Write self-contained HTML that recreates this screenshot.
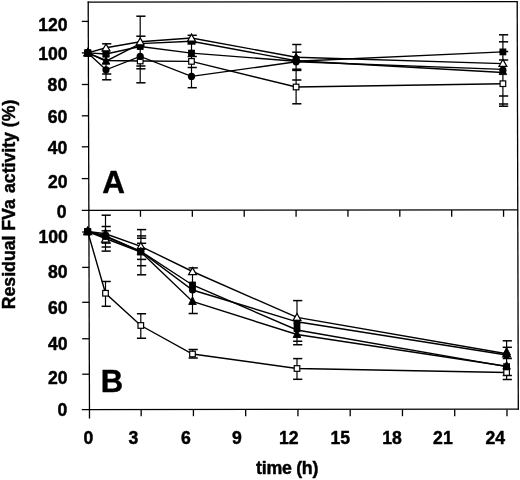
<!DOCTYPE html><html><head><meta charset="utf-8"><style>html,body{margin:0;padding:0;background:#fff;width:520px;height:480px;overflow:hidden}svg{display:block;will-change:transform}</style></head><body><svg width="520" height="480" viewBox="0 0 520 480"><rect width="520" height="480" fill="#fff"/><g stroke="#000" stroke-linecap="butt" fill="none"><line x1="88.2" y1="1.6" x2="89.5" y2="418.5" stroke-width="1.3"/><line x1="87.6" y1="2.2" x2="517.8" y2="1.6" stroke-width="1.3"/><line x1="517.2" y1="1.4" x2="518.3" y2="409.8" stroke-width="1.3"/><line x1="81.8" y1="210.3" x2="517.8" y2="209.9" stroke-width="1.3"/><line x1="81.8" y1="409.6" x2="518.8" y2="409.2" stroke-width="1.3"/><line x1="81.8" y1="21.4" x2="88.5" y2="21.4" stroke-width="1.3"/><line x1="81.8" y1="52.9" x2="88.5" y2="52.9" stroke-width="1.3"/><line x1="81.8" y1="84.5" x2="88.5" y2="84.5" stroke-width="1.3"/><line x1="81.8" y1="115.8" x2="88.5" y2="115.8" stroke-width="1.3"/><line x1="81.8" y1="146.8" x2="88.5" y2="146.8" stroke-width="1.3"/><line x1="81.8" y1="178.6" x2="88.5" y2="178.6" stroke-width="1.3"/><line x1="82.2" y1="232.0" x2="89.2" y2="232.0" stroke-width="1.3"/><line x1="82.2" y1="267.4" x2="89.2" y2="267.4" stroke-width="1.3"/><line x1="82.2" y1="302.3" x2="89.2" y2="302.3" stroke-width="1.3"/><line x1="82.2" y1="338.75" x2="89.2" y2="338.75" stroke-width="1.3"/><line x1="82.2" y1="374.2" x2="89.2" y2="374.2" stroke-width="1.3"/><line x1="140.47" y1="210" x2="140.47" y2="216.8" stroke-width="1.3"/><line x1="192.33999999999997" y1="210" x2="192.33999999999997" y2="216.8" stroke-width="1.3"/><line x1="244.20999999999998" y1="210" x2="244.20999999999998" y2="216.8" stroke-width="1.3"/><line x1="296.08" y1="210" x2="296.08" y2="216.8" stroke-width="1.3"/><line x1="347.94999999999993" y1="210" x2="347.94999999999993" y2="216.8" stroke-width="1.3"/><line x1="399.81999999999994" y1="210" x2="399.81999999999994" y2="216.8" stroke-width="1.3"/><line x1="451.68999999999994" y1="210" x2="451.68999999999994" y2="216.8" stroke-width="1.3"/><line x1="503.55999999999995" y1="210" x2="503.55999999999995" y2="216.8" stroke-width="1.3"/><line x1="141.16000000000003" y1="409.4" x2="141.16000000000003" y2="416.2" stroke-width="1.3"/><line x1="193.42000000000002" y1="409.4" x2="193.42000000000002" y2="416.2" stroke-width="1.3"/><line x1="245.68000000000004" y1="409.4" x2="245.68000000000004" y2="416.2" stroke-width="1.3"/><line x1="297.94000000000005" y1="409.4" x2="297.94000000000005" y2="416.2" stroke-width="1.3"/><line x1="350.20000000000005" y1="409.4" x2="350.20000000000005" y2="416.2" stroke-width="1.3"/><line x1="402.46000000000004" y1="409.4" x2="402.46000000000004" y2="416.2" stroke-width="1.3"/><line x1="454.72" y1="409.4" x2="454.72" y2="416.2" stroke-width="1.3"/><line x1="506.98" y1="409.4" x2="506.98" y2="416.2" stroke-width="1.3"/><line x1="106.0" y1="43.8" x2="106.0" y2="79.8" stroke-width="1.2"/><line x1="102.10000000000001" y1="43.8" x2="111.3" y2="43.8" stroke-width="1.5"/><line x1="102.10000000000001" y1="74.0" x2="111.3" y2="74.0" stroke-width="1.5"/><line x1="102.10000000000001" y1="79.8" x2="111.3" y2="79.8" stroke-width="1.5"/><line x1="140.2" y1="16.2" x2="140.2" y2="82.8" stroke-width="1.2"/><line x1="136.29999999999998" y1="16.2" x2="145.49999999999997" y2="16.2" stroke-width="1.5"/><line x1="136.29999999999998" y1="36.2" x2="145.49999999999997" y2="36.2" stroke-width="1.5"/><line x1="136.29999999999998" y1="66.0" x2="145.49999999999997" y2="66.0" stroke-width="1.5"/><line x1="136.29999999999998" y1="68.8" x2="145.49999999999997" y2="68.8" stroke-width="1.5"/><line x1="136.29999999999998" y1="82.8" x2="145.49999999999997" y2="82.8" stroke-width="1.5"/><line x1="191.5" y1="35.3" x2="191.5" y2="87.7" stroke-width="1.2"/><line x1="187.6" y1="35.3" x2="196.79999999999998" y2="35.3" stroke-width="1.5"/><line x1="187.6" y1="42.5" x2="196.79999999999998" y2="42.5" stroke-width="1.5"/><line x1="187.6" y1="56.5" x2="196.79999999999998" y2="56.5" stroke-width="1.5"/><line x1="187.6" y1="67.5" x2="196.79999999999998" y2="67.5" stroke-width="1.5"/><line x1="187.6" y1="87.7" x2="196.79999999999998" y2="87.7" stroke-width="1.5"/><line x1="296.1" y1="44.5" x2="296.1" y2="103.8" stroke-width="1.2"/><line x1="292.2" y1="44.5" x2="301.40000000000003" y2="44.5" stroke-width="1.5"/><line x1="292.2" y1="52.2" x2="301.40000000000003" y2="52.2" stroke-width="1.5"/><line x1="292.2" y1="69.2" x2="301.40000000000003" y2="69.2" stroke-width="1.5"/><line x1="292.2" y1="70.4" x2="301.40000000000003" y2="70.4" stroke-width="1.5"/><line x1="292.2" y1="80.0" x2="301.40000000000003" y2="80.0" stroke-width="1.5"/><line x1="292.2" y1="103.8" x2="301.40000000000003" y2="103.8" stroke-width="1.5"/><line x1="502.9" y1="34.8" x2="502.9" y2="106.2" stroke-width="1.2"/><line x1="498.99999999999994" y1="34.8" x2="508.2" y2="34.8" stroke-width="1.5"/><line x1="498.99999999999994" y1="41.8" x2="508.2" y2="41.8" stroke-width="1.5"/><line x1="498.99999999999994" y1="51.5" x2="508.2" y2="51.5" stroke-width="1.5"/><line x1="498.99999999999994" y1="60.0" x2="508.2" y2="60.0" stroke-width="1.5"/><line x1="498.99999999999994" y1="96.0" x2="508.2" y2="96.0" stroke-width="1.5"/><line x1="498.99999999999994" y1="104.0" x2="508.2" y2="104.0" stroke-width="1.5"/><line x1="498.99999999999994" y1="106.2" x2="508.2" y2="106.2" stroke-width="1.5"/><line x1="105.5" y1="215.2" x2="105.5" y2="251.1" stroke-width="1.2"/><line x1="101.60000000000001" y1="215.2" x2="110.8" y2="215.2" stroke-width="1.5"/><line x1="101.60000000000001" y1="226.5" x2="110.8" y2="226.5" stroke-width="1.5"/><line x1="101.60000000000001" y1="230.8" x2="110.8" y2="230.8" stroke-width="1.5"/><line x1="101.60000000000001" y1="243.1" x2="110.8" y2="243.1" stroke-width="1.5"/><line x1="101.60000000000001" y1="247.0" x2="110.8" y2="247.0" stroke-width="1.5"/><line x1="101.60000000000001" y1="251.1" x2="110.8" y2="251.1" stroke-width="1.5"/><line x1="140.9" y1="229.6" x2="140.9" y2="274.8" stroke-width="1.2"/><line x1="137.0" y1="229.6" x2="146.2" y2="229.6" stroke-width="1.5"/><line x1="137.0" y1="235.9" x2="146.2" y2="235.9" stroke-width="1.5"/><line x1="137.0" y1="238.2" x2="146.2" y2="238.2" stroke-width="1.5"/><line x1="137.0" y1="243.3" x2="146.2" y2="243.3" stroke-width="1.5"/><line x1="137.0" y1="259.4" x2="146.2" y2="259.4" stroke-width="1.5"/><line x1="137.0" y1="265.7" x2="146.2" y2="265.7" stroke-width="1.5"/><line x1="137.0" y1="274.8" x2="146.2" y2="274.8" stroke-width="1.5"/><line x1="192.5" y1="267.9" x2="192.5" y2="313.5" stroke-width="1.2"/><line x1="188.6" y1="267.9" x2="197.79999999999998" y2="267.9" stroke-width="1.5"/><line x1="188.6" y1="313.5" x2="197.79999999999998" y2="313.5" stroke-width="1.5"/><line x1="297.0" y1="300.6" x2="297.0" y2="344.75" stroke-width="1.2"/><line x1="293.09999999999997" y1="300.6" x2="302.3" y2="300.6" stroke-width="1.5"/><line x1="293.09999999999997" y1="341.25" x2="302.3" y2="341.25" stroke-width="1.5"/><line x1="293.09999999999997" y1="344.75" x2="302.3" y2="344.75" stroke-width="1.5"/><line x1="506.6" y1="340.8" x2="506.6" y2="379.5" stroke-width="1.2"/><line x1="502.7" y1="340.8" x2="511.90000000000003" y2="340.8" stroke-width="1.5"/><line x1="502.7" y1="347.3" x2="511.90000000000003" y2="347.3" stroke-width="1.5"/><line x1="502.7" y1="358.5" x2="511.90000000000003" y2="358.5" stroke-width="1.5"/><line x1="502.7" y1="375.5" x2="511.90000000000003" y2="375.5" stroke-width="1.5"/><line x1="502.7" y1="379.5" x2="511.90000000000003" y2="379.5" stroke-width="1.5"/><line x1="105.5" y1="281.5" x2="105.5" y2="306.3" stroke-width="1.2"/><line x1="101.60000000000001" y1="281.5" x2="110.8" y2="281.5" stroke-width="1.5"/><line x1="101.60000000000001" y1="306.3" x2="110.8" y2="306.3" stroke-width="1.5"/><line x1="140.8" y1="313.75" x2="140.8" y2="338.25" stroke-width="1.2"/><line x1="136.9" y1="313.75" x2="146.1" y2="313.75" stroke-width="1.5"/><line x1="136.9" y1="338.25" x2="146.1" y2="338.25" stroke-width="1.5"/><line x1="192.5" y1="349.5" x2="192.5" y2="358.0" stroke-width="1.2"/><line x1="188.6" y1="349.5" x2="197.79999999999998" y2="349.5" stroke-width="1.5"/><line x1="188.6" y1="358.0" x2="197.79999999999998" y2="358.0" stroke-width="1.5"/><line x1="297.0" y1="358.6" x2="297.0" y2="379.3" stroke-width="1.2"/><line x1="293.09999999999997" y1="358.6" x2="302.3" y2="358.6" stroke-width="1.5"/><line x1="293.09999999999997" y1="379.3" x2="302.3" y2="379.3" stroke-width="1.5"/><polyline points="87.8,52.9 106,47.8 140.2,41.8 191.5,38.0 296.1,57.2 502.9,63.6" fill="none" stroke-width="1.4"/><polyline points="87.8,52.9 106,61.2 140.2,43.6 191.5,41.2 296.1,60.8 502.9,72.5" fill="none" stroke-width="1.4"/><polyline points="87.8,52.9 106,54.0 140.2,46.5 191.5,53.1 296.1,61.3 502.9,51.9" fill="none" stroke-width="1.4"/><polyline points="87.8,52.9 106,69.8 140.2,56.4 191.5,76.4 296.1,61.8 502.9,69.4" fill="none" stroke-width="1.4"/><polyline points="87.8,52.9 106,60.5 140.2,61.0 191.5,61.4 296.1,87.0 502.9,83.7" fill="none" stroke-width="1.4"/><polyline points="87.7,231.5 105.5,233.8 140.8,246.3 192.5,271.5 297.0,317.4 506.6,353.8" fill="none" stroke-width="1.4"/><polyline points="87.7,231.5 105.5,236.0 140.8,251.3 192.5,285.0 297.0,330.0 506.6,366.6" fill="none" stroke-width="1.4"/><polyline points="87.7,231.5 105.5,236.5 140.8,251.5 192.5,290.0 297.0,321.8 506.6,355.0" fill="none" stroke-width="1.4"/><polyline points="87.7,231.5 105.5,238.5 140.8,252.0 192.5,301.5 297.0,334.5 506.6,366.2" fill="none" stroke-width="1.4"/><polyline points="87.7,231.5 105.5,293.25 140.8,325.5 192.5,354.0 297.0,368.5 506.6,372.5" fill="none" stroke-width="1.4"/><rect x="84.99999999999999" y="50.1" width="5.6" height="5.6" fill="#fff" stroke-width="1.2"/><polygon points="87.8,48.2 91.60000000000001,55.9 83.99999999999999,55.9" fill="#000" stroke-width="0.9" stroke-linejoin="round"/><circle cx="87.8" cy="52.9" r="3.6" fill="#000" stroke="none"/><rect x="84.39999999999999" y="49.5" width="6.8" height="6.8" fill="#000" stroke="none"/><polygon points="87.8,49.0 91.7,55.9 83.89999999999999,55.9" fill="#fff" stroke-width="1.25" stroke-linejoin="miter"/><rect x="103.19999999999999" y="51.2" width="5.6" height="5.6" fill="#fff" stroke-width="1.2"/><polygon points="106,56.50000000000001 109.80000000000001,64.2 102.19999999999999,64.2" fill="#000" stroke-width="0.9" stroke-linejoin="round"/><circle cx="106" cy="69.8" r="3.6" fill="#000" stroke="none"/><rect x="102.6" y="50.6" width="6.8" height="6.8" fill="#000" stroke="none"/><polygon points="106,43.9 109.9,50.8 102.1,50.8" fill="#fff" stroke-width="1.25" stroke-linejoin="miter"/><rect x="137.39999999999998" y="58.2" width="5.6" height="5.6" fill="#fff" stroke-width="1.2"/><polygon points="140.2,38.900000000000006 144.0,46.6 136.39999999999998,46.6" fill="#000" stroke-width="0.9" stroke-linejoin="round"/><circle cx="140.2" cy="56.4" r="3.6" fill="#000" stroke="none"/><rect x="136.79999999999998" y="43.1" width="6.8" height="6.8" fill="#000" stroke="none"/><polygon points="140.2,37.9 144.1,44.8 136.29999999999998,44.8" fill="#fff" stroke-width="1.25" stroke-linejoin="miter"/><rect x="188.7" y="58.6" width="5.6" height="5.6" fill="#fff" stroke-width="1.2"/><polygon points="191.5,36.50000000000001 195.3,44.2 187.7,44.2" fill="#000" stroke-width="0.9" stroke-linejoin="round"/><circle cx="191.5" cy="76.4" r="3.6" fill="#000" stroke="none"/><rect x="188.1" y="49.7" width="6.8" height="6.8" fill="#000" stroke="none"/><polygon points="191.5,34.1 195.4,41.0 187.6,41.0" fill="#fff" stroke-width="1.25" stroke-linejoin="miter"/><rect x="293.30000000000007" y="84.19999999999999" width="5.6" height="5.6" fill="#fff" stroke-width="1.2"/><polygon points="296.1,54.6 300.0,61.5 292.20000000000005,61.5" fill="#fff" stroke-width="1.25" stroke-linejoin="miter"/><circle cx="296.1" cy="61.8" r="3.6" fill="#000" stroke="none"/><rect x="292.70000000000005" y="56.1" width="6.8" height="6.8" fill="#000" stroke="none"/><polygon points="296.1,53.1 299.9,60.8 292.30000000000007,60.8" fill="#000" stroke-width="0.9" stroke-linejoin="round"/><rect x="500.1" y="80.89999999999999" width="5.6" height="5.6" fill="#fff" stroke-width="1.2"/><circle cx="502.9" cy="70.2" r="3.6" fill="#000" stroke="none"/><polygon points="502.9,66.89999999999999 506.69999999999993,74.6 499.1,74.6" fill="#000" stroke-width="0.9" stroke-linejoin="round"/><rect x="499.5" y="48.5" width="6.8" height="6.8" fill="#000" stroke="none"/><polygon points="502.9,59.4 506.79999999999995,66.3 499.0,66.3" fill="#fff" stroke-width="1.25" stroke-linejoin="miter"/><polygon points="87.7,227.6 91.60000000000001,234.5 83.8,234.5" fill="#fff" stroke-width="1.25" stroke-linejoin="miter"/><rect x="84.89999999999999" y="228.7" width="5.6" height="5.6" fill="#fff" stroke-width="1.2"/><circle cx="87.7" cy="231.5" r="3.6" fill="#000" stroke="none"/><polygon points="87.7,226.79999999999998 91.50000000000001,234.5 83.89999999999999,234.5" fill="#000" stroke-width="0.9" stroke-linejoin="round"/><rect x="84.3" y="228.1" width="6.8" height="6.8" fill="#000" stroke="none"/><polygon points="105.5,235.1 109.4,242.0 101.6,242.0" fill="#fff" stroke-width="1.25" stroke-linejoin="miter"/><rect x="102.69999999999999" y="290.45000000000005" width="5.6" height="5.6" fill="#fff" stroke-width="1.2"/><circle cx="105.5" cy="236.5" r="3.6" fill="#000" stroke="none"/><polygon points="105.5,228.89999999999998 109.30000000000001,236.6 101.69999999999999,236.6" fill="#000" stroke-width="0.9" stroke-linejoin="round"/><rect x="102.1" y="232.6" width="6.8" height="6.8" fill="#000" stroke="none"/><polygon points="140.8,242.4 144.70000000000002,249.3 136.9,249.3" fill="#fff" stroke-width="1.25" stroke-linejoin="miter"/><rect x="138.0" y="322.70000000000005" width="5.6" height="5.6" fill="#fff" stroke-width="1.2"/><circle cx="140.8" cy="251.5" r="3.6" fill="#000" stroke="none"/><polygon points="140.8,247.29999999999998 144.60000000000002,255.0 137.0,255.0" fill="#000" stroke-width="0.9" stroke-linejoin="round"/><rect x="137.4" y="247.9" width="6.8" height="6.8" fill="#000" stroke="none"/><polygon points="192.5,267.6 196.4,274.5 188.6,274.5" fill="#fff" stroke-width="1.25" stroke-linejoin="miter"/><rect x="189.7" y="351.20000000000005" width="5.6" height="5.6" fill="#fff" stroke-width="1.2"/><circle cx="192.5" cy="290.0" r="3.6" fill="#000" stroke="none"/><polygon points="192.5,296.8 196.3,304.5 188.7,304.5" fill="#000" stroke-width="0.9" stroke-linejoin="round"/><rect x="189.1" y="281.6" width="6.8" height="6.8" fill="#000" stroke="none"/><polygon points="297.0,313.5 300.9,320.4 293.1,320.4" fill="#fff" stroke-width="1.25" stroke-linejoin="miter"/><rect x="294.20000000000005" y="365.70000000000005" width="5.6" height="5.6" fill="#fff" stroke-width="1.2"/><circle cx="297.0" cy="323.4" r="3.6" fill="#000" stroke="none"/><polygon points="297.0,329.8 300.79999999999995,337.5 293.20000000000005,337.5" fill="#000" stroke-width="0.9" stroke-linejoin="round"/><rect x="293.6" y="325.40000000000003" width="6.8" height="6.8" fill="#000" stroke="none"/><polygon points="506.6,349.90000000000003 510.5,356.8 502.70000000000005,356.8" fill="#fff" stroke-width="1.25" stroke-linejoin="miter"/><rect x="503.80000000000007" y="369.70000000000005" width="5.6" height="5.6" fill="#fff" stroke-width="1.2"/><circle cx="506.6" cy="355.0" r="3.6" fill="#000" stroke="none"/><polygon points="506.6,361.5 510.4,369.2 502.80000000000007,369.2" fill="#000" stroke-width="0.9" stroke-linejoin="round"/><rect x="503.20000000000005" y="363.20000000000005" width="6.8" height="6.8" fill="#000" stroke="none"/><polygon points="506.6,347.3 510.4,355.0 502.80000000000007,355.0" fill="#000" stroke-width="0.9" stroke-linejoin="round"/><rect x="84.39999999999999" y="49.699999999999996" width="6.8" height="6.8" fill="#000" stroke="none"/><polygon points="87.8,47.800000000000004 91.60000000000001,55.5 83.99999999999999,55.5" fill="#000" stroke-width="0.9" stroke-linejoin="round"/><rect x="84.3" y="228.6" width="6.8" height="6.8" fill="#000" stroke="none"/><polygon points="87.7,226.69999999999996 91.50000000000001,234.39999999999998 83.89999999999999,234.39999999999998" fill="#000" stroke-width="0.9" stroke-linejoin="round"/></g><g font-family="Liberation Sans, sans-serif" font-weight="bold" fill="#000" stroke="#000" stroke-width="0.45" stroke-linejoin="round"><text x="67.6" y="30.500799999999998" text-anchor="end" font-size="17.6" >120</text><text x="67.6" y="59.8008" text-anchor="end" font-size="17.6" >100</text><text x="67.2" y="91.10079999999999" text-anchor="end" font-size="17.6" >80</text><text x="67.4" y="122.8008" text-anchor="end" font-size="17.6" >60</text><text x="67.4" y="153.8008" text-anchor="end" font-size="17.6" >40</text><text x="67.5" y="188.20080000000002" text-anchor="end" font-size="17.6" >20</text><text x="66.5" y="217.8008" text-anchor="end" font-size="17.6" >0</text><text x="67.9" y="242.8008" text-anchor="end" font-size="17.6" >100</text><text x="67.6" y="278.20079999999996" text-anchor="end" font-size="17.6" >80</text><text x="67.6" y="313.50079999999997" text-anchor="end" font-size="17.6" >60</text><text x="67.6" y="349.70079999999996" text-anchor="end" font-size="17.6" >40</text><text x="67.6" y="384.4008" text-anchor="end" font-size="17.6" >20</text><text x="67.2" y="416.00079999999997" text-anchor="end" font-size="17.6" >0</text><text x="88.3" y="443.70079999999996" text-anchor="middle" font-size="17.6" >0</text><text x="133.5" y="443.70079999999996" text-anchor="middle" font-size="17.6" >3</text><text x="185.8" y="443.70079999999996" text-anchor="middle" font-size="17.6" >6</text><text x="237.0" y="443.70079999999996" text-anchor="middle" font-size="17.6" >9</text><text x="288.8" y="443.70079999999996" text-anchor="middle" font-size="17.6" >12</text><text x="340.2" y="443.70079999999996" text-anchor="middle" font-size="17.6" >15</text><text x="392.0" y="443.70079999999996" text-anchor="middle" font-size="17.6" >18</text><text x="442.9" y="443.70079999999996" text-anchor="middle" font-size="17.6" >21</text><text x="495.2" y="443.70079999999996" text-anchor="middle" font-size="17.6" >24</text><text x="113.5" y="192.9" text-anchor="middle" font-size="31.4" >A</text><text x="112.0" y="391.8" text-anchor="middle" font-size="31.0" >B</text><text x="287.1" y="474.0" text-anchor="middle" font-size="17.8" letter-spacing="-0.28">time (h)</text><text x="0" y="0" text-anchor="middle" font-size="17.7" transform="translate(15.0,272.4) rotate(-90)">Residual</text><text x="0" y="0" text-anchor="middle" font-size="17.7" transform="translate(15.0,215.0) rotate(-90)">FVa</text><text x="0" y="0" text-anchor="middle" font-size="17.7" transform="translate(15.0,146.35) rotate(-90)">activity (%)</text></g></svg></body></html>
